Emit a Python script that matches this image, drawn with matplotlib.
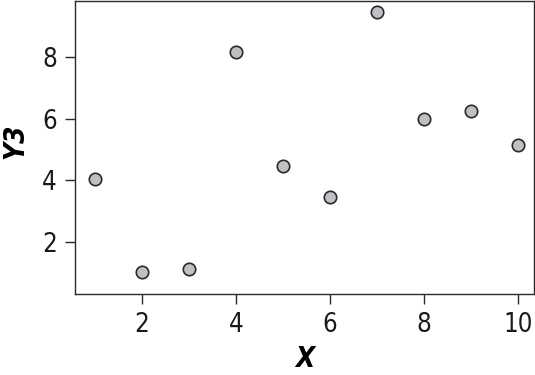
import matplotlib
matplotlib.use("Agg")
import matplotlib.pyplot as plt

# data
x = [1, 2, 3, 4, 5, 6, 7, 8, 9, 10]
y3 = [4.05, 1.03, 1.13, 8.14, 4.45, 3.45, 9.46, 6.0, 6.25, 5.15]
x_ticks = [2, 4, 6, 8, 10]
y_ticks = [2, 4, 6, 8]

plt.rcParams['font.family'] = ['Liberation Sans Narrow', 'DejaVu Sans']
plt.rcParams['font.stretch'] = 'condensed'

fig = plt.figure(figsize=(5.35, 3.75), dpi=100)
ax = fig.add_axes([0.140, 0.216, 0.858, 0.781])

ax.scatter(x, y3, s=80, facecolor='#c0c0c4', edgecolor='#2a2a2a', linewidth=1.2, zorder=3)

ax.set_xlim(0.58, 10.33)
ax.set_ylim(0.32, 9.8)
ax.set_xticks(x_ticks)
ax.set_yticks(y_ticks)
ax.tick_params(axis='both', length=7, width=1.0, color='#2a2a2a',
               labelsize=18.5, labelcolor='#1a1a1a', pad=6)
for s in ax.spines.values():
    s.set_linewidth(1.0)
    s.set_color('#2a2a2a')

ax.set_xlabel('X', fontsize=20, fontweight='bold', fontstyle='italic', labelpad=5)
ax.set_ylabel('Y3', fontsize=20, fontweight='bold', fontstyle='italic')
ax.yaxis.set_label_coords(-0.098, 0.52)

fig.savefig('out.png', dpi=100)
